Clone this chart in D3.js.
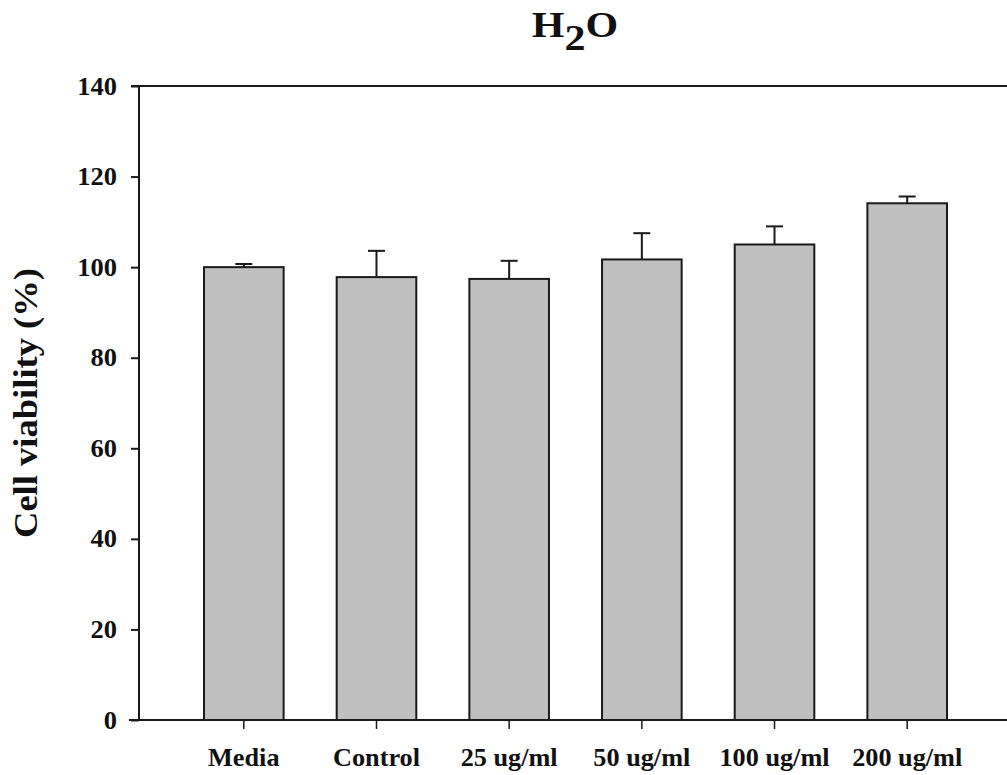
<!DOCTYPE html>
<html>
<head>
<meta charset="utf-8">
<script src="https://cdn.jsdelivr.net/npm/d3@7"></script>
<style>
  html, body { margin: 0; padding: 0; background: #fff; }
  svg { display: block; }
  text { font-family: "Liberation Serif", "Times New Roman", serif; font-weight: bold; fill: #111; }
</style>
</head>
<body>
<svg id="chart" width="1007" height="775"></svg>
<script>
// Cell viability per treatment (mean and upper error)
const categories = ["Media", "Control", "25 ug/ml", "50 ug/ml", "100 ug/ml", "200 ug/ml"];
const viability = [100.0, 97.8, 97.4, 101.7, 105.0, 114.1];
const errors = [0.7, 5.8, 4.0, 5.8, 4.0, 1.5];
const yTicks = [0, 20, 40, 60, 80, 100, 120, 140];

const svg = d3.select("#chart");
const W = 1007;
const plotLeft = 139, plotTop = 86, plotBottom = 720;

const y = d3.scaleLinear().domain([0, 140]).range([plotBottom, plotTop]);
const x = d3.scaleBand().domain(categories).range([plotLeft, 1012])
  .paddingInner(0.4).paddingOuter(0.49);

const ink = "#1a1a1a";

// Title with subscript
const title = svg.append("text")
  .attr("x", 575).attr("y", 37)
  .attr("text-anchor", "middle")
  .style("font-size", "35px")
  .attr("transform", "translate(575,0) scale(1.2,1) translate(-575,0)");
title.append("tspan").text("H");
title.append("tspan").attr("dy", 13).text("2");
title.append("tspan").attr("dy", -13).text("O");

// Bars
svg.append("g").selectAll("rect")
  .data(categories)
  .join("rect")
  .attr("x", d => x(d))
  .attr("y", (d, i) => y(viability[i]))
  .attr("width", x.bandwidth())
  .attr("height", (d, i) => y(0) - y(viability[i]))
  .attr("fill", "#c0c0c0")
  .attr("stroke", ink)
  .attr("stroke-width", 2);

// Upper error bars
const eb = svg.append("g").attr("stroke", ink).attr("stroke-width", 2);
categories.forEach((c, i) => {
  const cx = x(c) + x.bandwidth() / 2;
  eb.append("line").attr("x1", cx).attr("x2", cx)
    .attr("y1", y(viability[i])).attr("y2", y(viability[i] + errors[i]));
  eb.append("line").attr("x1", cx - 8.5).attr("x2", cx + 8.5)
    .attr("y1", y(viability[i] + errors[i])).attr("y2", y(viability[i] + errors[i]));
});

// Y axis
const yAxis = svg.append("g")
  .attr("transform", `translate(${plotLeft},0)`)
  .call(d3.axisLeft(y).tickValues(yTicks).tickSize(8).tickPadding(14).tickSizeOuter(0));
yAxis.select(".domain").remove();
yAxis.selectAll(".tick line").attr("stroke", ink).attr("stroke-width", 2);
yAxis.selectAll(".tick text")
  .style("font-size", "25px")
  .attr("fill", "#111")
  .attr("font-family", null)
  .attr("transform", "translate(-22,0) scale(1.06,1) translate(22,0)");

svg.append("line")
  .attr("x1", plotLeft).attr("x2", plotLeft)
  .attr("y1", plotTop).attr("y2", plotBottom)
  .attr("stroke", ink).attr("stroke-width", 2);

// Frame top and baseline
svg.append("line")
  .attr("x1", plotLeft - 8).attr("x2", W)
  .attr("y1", y(140)).attr("y2", y(140))
  .attr("stroke", ink).attr("stroke-width", 2);
svg.append("line")
  .attr("x1", plotLeft - 10).attr("x2", W)
  .attr("y1", y(0)).attr("y2", y(0))
  .attr("stroke", ink).attr("stroke-width", 2);

// X axis
const xAxis = svg.append("g")
  .attr("transform", `translate(0,${plotBottom})`)
  .call(d3.axisBottom(x).tickSize(9).tickPadding(19).tickSizeOuter(0));
xAxis.select(".domain").remove();
xAxis.selectAll(".tick line").attr("stroke", ink).attr("stroke-width", 1.5);
xAxis.selectAll(".tick text")
  .style("font-size", "25px")
  .attr("fill", "#111")
  .attr("font-family", null)
  .attr("transform", "scale(1.05,1)");

// Y axis title
svg.append("text")
  .attr("transform", "translate(37,403) rotate(-90)")
  .attr("text-anchor", "middle")
  .style("font-size", "34px")
  .attr("textLength", 270)
  .attr("lengthAdjust", "spacingAndGlyphs")
  .text("Cell viability (%)");
</script>
</body>
</html>
